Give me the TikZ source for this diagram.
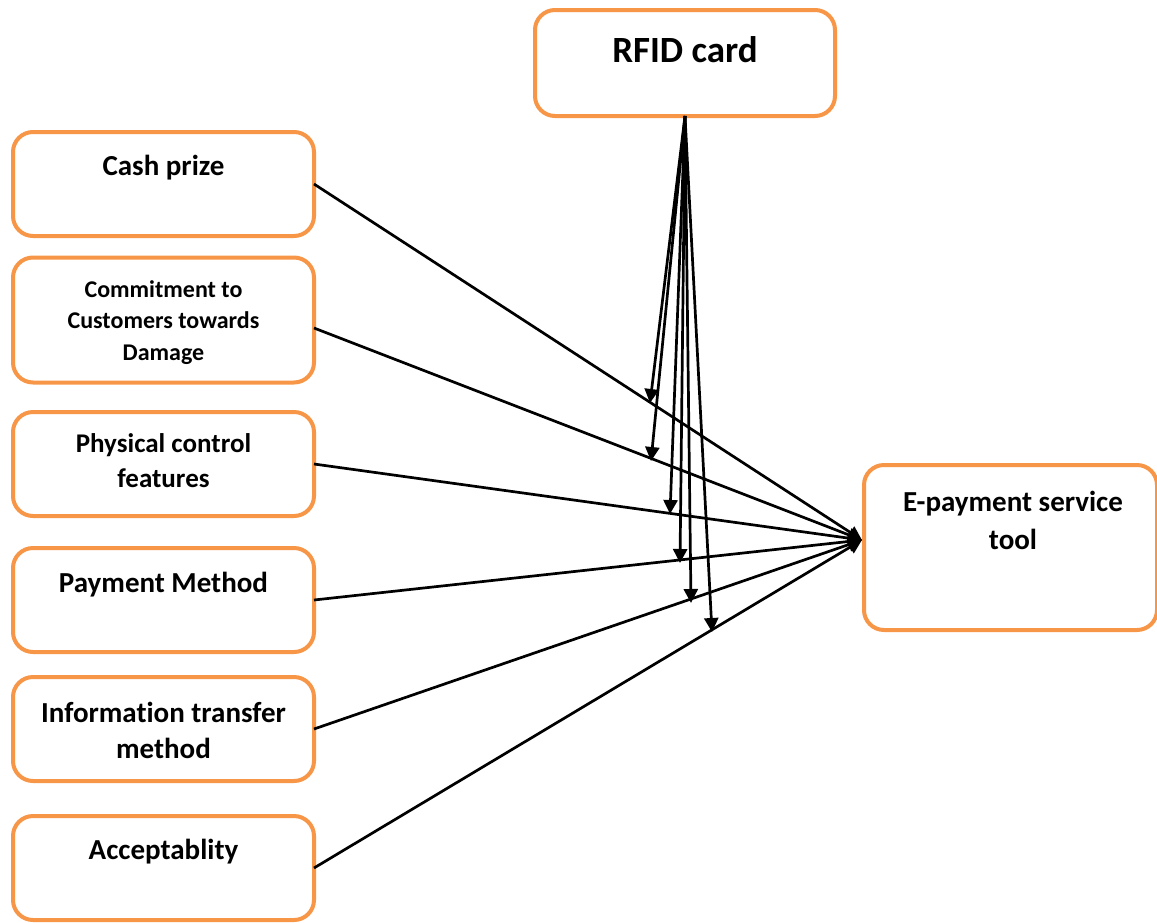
\documentclass[tikz,border=0pt]{standalone}
\usepackage{fontspec}
\setmainfont{Carlito}[Ligatures=NoCommon]
\usetikzlibrary{arrows.meta}
\definecolor{boxorange}{HTML}{F79646}
\begin{document}
\begin{tikzpicture}[x=1pt,y=-1pt,
  box/.style={draw=boxorange, line width=4pt, rounded corners=20pt, fill=white,
    minimum width=301pt, minimum height=104pt, inner sep=0pt, outer sep=0pt},
  lbl/.style={align=center, inner sep=0pt, anchor=base},
  big/.style={font=\bfseries\fontsize{37}{44}\selectfont},
  mid/.style={font=\bfseries\fontsize{29}{36}\selectfont},
  phy/.style={font=\bfseries\fontsize{27}{34.5}\selectfont},
  small/.style={font=\bfseries\fontsize{24}{31.5}\selectfont},
  link/.style={line width=2.7pt, -{Triangle[length=14pt,width=14pt]}}]
\useasboundingbox (0,0) rectangle (1157,922);
% boxes
\node[box, minimum width=300pt, minimum height=106pt] (rfid) at (685,63) {};
\node[box] (cash) at (163.5,184) {};
\node[box, minimum height=125pt] (comm) at (163.5,320) {};
\node[box] (phys) at (163.5,464) {};
\node[box] (pay) at (163.5,600) {};
\node[box] (info) at (163.5,729) {};
\node[box] (acc) at (163.5,868) {};
\node[box, minimum width=293pt, minimum height=165pt] (epay) at (1010.5,547.5) {};
% labels (base = baseline of the last line)
\node[lbl, big] (trfid) at (685,62) {RFID card};
\node[lbl, mid] (tcash) at (163.5,175) {Cash prize};
\node[lbl, small] (tcomm) at (163.5,360) {Commitment to\\Customers towards\\Damage};
\node[lbl, phy] (tphys) at (163.5,487) {Physical control\\features};
\node[lbl, mid] (tpay) at (163.5,592) {Payment Method};
\node[lbl, mid] (tinfo) at (163.5,758) {Information transfer\\method};
\node[lbl, mid] (tacc) at (163.5,859) {Acceptablity};
\node[lbl, mid, font=\bfseries\fontsize{29}{38}\selectfont] (tepay) at (1013,549) {E-payment service\\tool};
% connectors to e-payment
\coordinate (hub) at (862,540);
\draw[link] (cash.east) -- (hub);
\draw[link] ([yshift=-8pt]comm.east) -- (hub);
\draw[link] (phys.east) -- (hub);
\draw[link] (pay.east) -- (hub);
\draw[link] (info.east) -- (hub);
\draw[link] (acc.east) -- (hub);
% RFID fan
\coordinate (r1) at (650,403);
\coordinate (r2) at (651,461);
\coordinate (r3) at (670,514);
\coordinate (r4) at (680,563);
\coordinate (r5) at (691,603);
\coordinate (r6) at (712,632);
\foreach \t in {r1,r2,r3,r4,r5,r6} \draw[link] (rfid.south) -- (\t);
\end{tikzpicture}
\end{document}
